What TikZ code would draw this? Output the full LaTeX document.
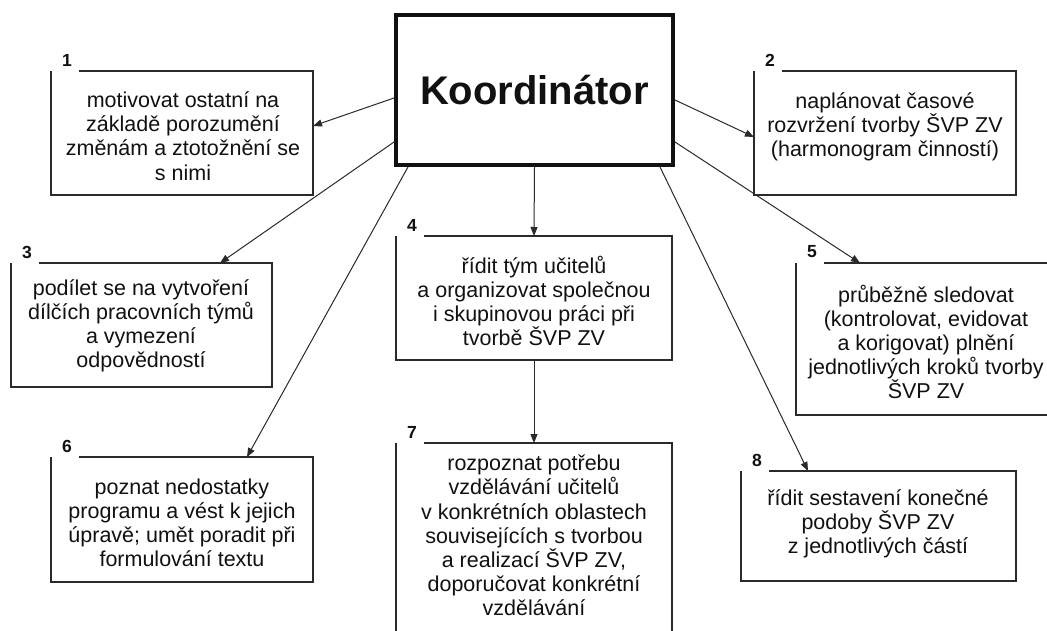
\documentclass[tikz,border=0pt]{standalone}
\usepackage{fontspec}
\setmainfont{Liberation Sans}
\usetikzlibrary{calc,arrows.meta}
\definecolor{ink}{HTML}{111111}
\definecolor{edge}{HTML}{2A2A2A}
\tikzset{
  boxarea/.style={draw=none,inner sep=0pt,outer sep=0pt},
  boxline/.style={draw=edge,line width=1.3pt,line join=miter},
  txt/.style={align=center,text=ink,inner sep=0pt,font=\fontsize{21.5}{24.2}\selectfont},
  num/.style={text=ink,inner sep=0pt,font=\fontsize{17.5}{17.5}\selectfont\bfseries},
  conn/.style={draw=edge,line width=1pt,-{Triangle[length=9pt,width=7pt]}},
  koord/.style={draw=ink,line width=4pt,inner sep=0pt,minimum width=277pt,minimum height=150pt,
    font=\fontsize{40}{44}\selectfont\bfseries,text=ink}
}
\newcommand\openbox[2]{%
  \draw[boxline] ($(#1.north west)+(28,0)$) -- (#1.north east) -- (#1.south east) -- (#1.south west) -- (#1.north west);
  \node[num] (n#1) at ($(#1.north west)+(16,-11)$) {#2};}
\begin{document}
\begin{tikzpicture}[x=1pt,y=-1pt]
\clip (0,0) rectangle (1047,630);
\useasboundingbox (0,0) rectangle (1047,630);
\fill[white] (0,0) rectangle (1047,630);

\node[koord] (k) at (534.5,90) {Koordinátor};

\node[boxarea,minimum width=262pt,minimum height=124pt] (b1) at (182,133) {};
\node[boxarea,minimum width=262pt,minimum height=124pt] (b2) at (885,133) {};
\node[boxarea,minimum width=261pt,minimum height=124pt] (b3) at (141.5,325) {};
\node[boxarea,minimum width=276pt,minimum height=124pt] (b4) at (534,298) {};
\node[boxarea,minimum width=264pt,minimum height=152pt] (b5) at (928,339) {};
\node[boxarea,minimum width=262pt,minimum height=125pt] (b6) at (182,519.5) {};
\node[boxarea,minimum width=276pt,minimum height=202pt] (b7) at (534,544) {};
\node[boxarea,minimum width=275pt,minimum height=110pt] (b8) at (878.5,526) {};

\openbox{b1}{1}
\openbox{b2}{2}
\openbox{b3}{3}
\openbox{b4}{4}
\openbox{b5}{5}
\openbox{b6}{6}
\openbox{b7}{7}
\openbox{b8}{8}

\node[txt] (t1) at (183,136) {motivovat ostatní na\\základě porozumění\\změnám a ztotožnění se\\s nimi};
\node[txt] (t2) at (885,127) {naplánovat časové\\rozvržení tvorby ŠVP ZV\\(harmonogram činností)};
\node[txt] (t3) at (141,326) {podílet se na vytvoření\\dílčích pracovních týmů\\a vymezení\\odpovědností};
\node[txt] (t4) at (534,301) {řídit tým učitelů\\a organizovat společnou\\i skupinovou práci při\\tvorbě ŠVP ZV};
\node[txt] (t5) at (926,342) {průběžně sledovat\\(kontrolovat, evidovat\\a korigovat) plnění\\jednotlivých kroků tvorby\\ŠVP ZV};
\node[txt] (t6) at (182,523) {poznat nedostatky\\programu a vést k jejich\\úpravě; umět poradit při\\formulování textu};
\node[txt] (t7) at (534,535.5) {rozpoznat potřebu\\vzdělávání učitelů\\v konkrétních oblastech\\souvisejících s tvorbou\\a realizací ŠVP ZV,\\doporučovat konkrétní\\vzdělávání};
\node[txt] (t8) at (878,524) {řídit sestavení konečné\\podoby ŠVP ZV\\z jednotlivých částí};

\draw[conn] (k.west |- 0,98) -- (b1.east |- 0,126);
\draw[conn] (k.west |- 0,142) -- (b3.north -| 220,0);
\draw[conn] (k.south -| 408,0) -- (b6.north -| 247,0);
\draw[conn] (k.south) -- (b4.north);
\draw[conn] (k.east |- 0,100) -- (b2.west |- 0,137);
\draw[conn] (k.east |- 0,142) -- (b5.north -| 860,0);
\draw[conn] (k.south -| 660,0) -- (b8.north -| 808,0);
\draw[conn] (b4.south) -- (b7.north);
\end{tikzpicture}
\end{document}
